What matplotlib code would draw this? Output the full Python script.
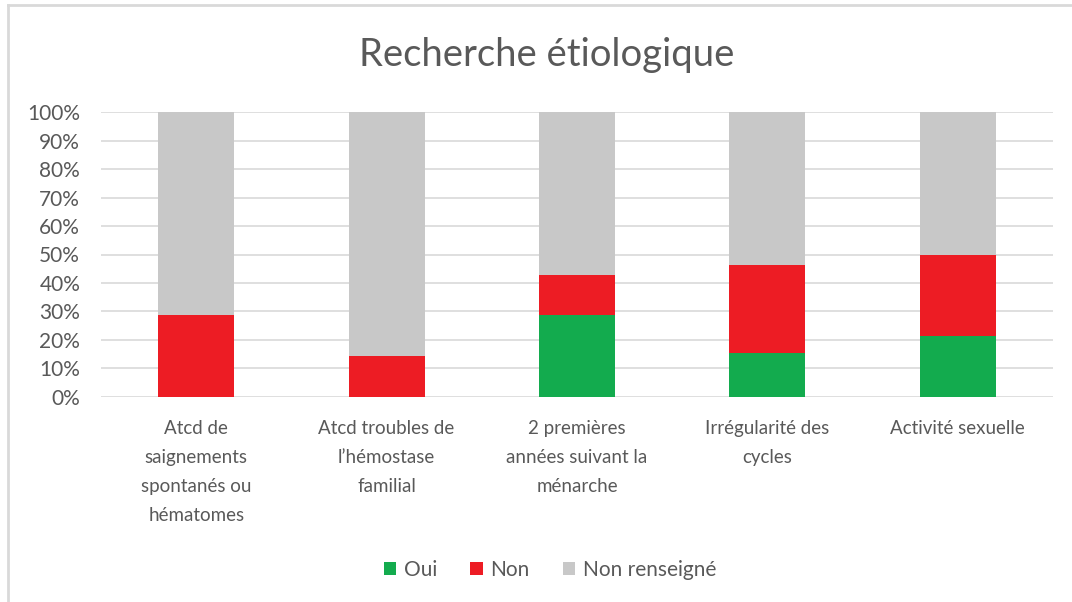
import matplotlib
matplotlib.use("Agg")
import matplotlib.pyplot as plt
from matplotlib.lines import Line2D
import numpy as np

plt.rcParams['font.family'] = ['Lato', 'DejaVu Sans']

categories = ["Atcd de\nsaignements\nspontanés ou\nhématomes",
              "Atcd troubles de\nl\u2019hémostase\nfamilial",
              "2 premières\nannées suivant la\nménarche",
              "Irrégularité des\ncycles",
              "Activité sexuelle"]
oui = [0.0, 0.0, 28.6, 15.4, 21.4]
non = [28.6, 14.3, 14.3, 30.8, 28.6]
non_renseigne = [100 - o - n for o, n in zip(oui, non)]
series_names = ["Oui", "Non", "Non renseigné"]
colors = ["#13AB4E", "#ED1C24", "#C8C8C8"]
yticks = list(range(0, 101, 10))

fig = plt.figure(figsize=(10.72, 6.02), dpi=100)
# partial chart frame (left and top edges visible in the reference crop)
fig.add_artist(Line2D([8/1072, 8/1072], [0, 1 - 5/602], transform=fig.transFigure,
                      color="#D9D9D9", linewidth=2))
fig.add_artist(Line2D([8/1072, 1], [1 - 5/602, 1 - 5/602], transform=fig.transFigure,
                      color="#D9D9D9", linewidth=2))

ax = fig.add_axes([101/1072, 1 - 396.7/602, (1053-101)/1072, (396.7-112.3)/602])

x = np.arange(len(categories))
bottom = np.zeros(len(categories))
for vals, name, c in zip([oui, non, non_renseigne], series_names, colors):
    ax.bar(x, vals, width=0.40, bottom=bottom, color=c, label=name, zorder=3)
    bottom += np.array(vals)

ax.set_xlim(-0.5, len(categories) - 0.5)
ax.set_ylim(0, 100)
ax.set_yticks(yticks)
ax.set_yticklabels([f"{t}%" for t in yticks])
ax.grid(axis='y', color="#D9D9D9", linewidth=1.2, zorder=0)
for s in ax.spines.values():
    s.set_visible(False)
ax.tick_params(axis='both', length=0, colors="#595959")
ax.tick_params(axis='y', pad=15, labelsize=15)
ax.set_xticks(x)
ax.set_xticklabels(categories, fontsize=13.5, color="#595959", linespacing=1.85, va='top')
ax.tick_params(axis='x', pad=17)

fig.text(0.51, 1 - 55/602, "Recherche étiologique", ha='center', va='center',
         fontsize=27.5, color="#595959")

handles, labels = ax.get_legend_handles_labels()
fig.legend(handles, labels, loc='center', bbox_to_anchor=(0.513, 1 - 570/602), ncol=3,
           frameon=False, fontsize=15, labelcolor="#595959", handlelength=0.6,
           handleheight=0.6, columnspacing=1.6, handletextpad=0.35)

fig.savefig("out.png", dpi=100)
